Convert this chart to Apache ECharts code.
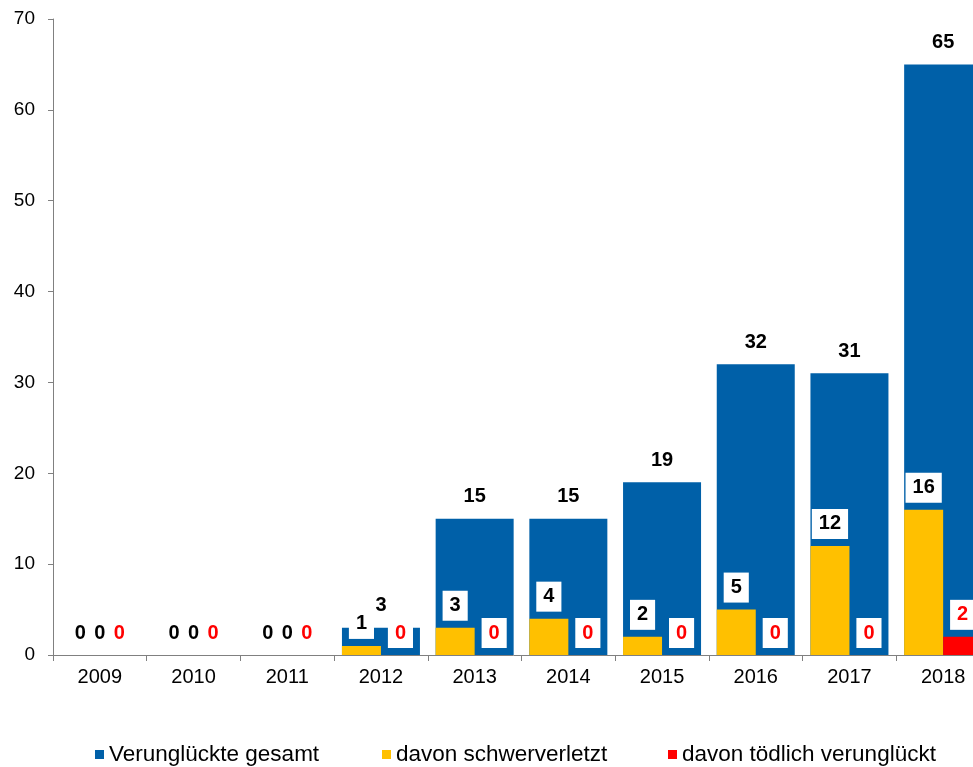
<!DOCTYPE html>
<html>
<head>
<meta charset="utf-8">
<script src="https://cdn.jsdelivr.net/npm/echarts@6/dist/echarts.min.js"></script>
<style>
html,body{margin:0;padding:0;background:#fff;overflow:hidden;}
#chart{width:973px;height:767px;}
</style>
</head>
<body>
<div id="chart"></div>
<script>
var years = ['2009','2010','2011','2012','2013','2014','2015','2016','2017','2018'];
var totalInjured = [0,0,0,3,15,15,19,32,31,65];
var seriouslyInjured = [0,0,0,1,3,4,2,5,12,16];
var killed = [0,0,0,0,0,0,0,0,0,2];
var yTicks = { min: 0, max: 70, interval: 10 };
var seriesNames = ['Verunglückte gesamt','davon schwerverletzt','davon tödlich verunglückt'];

var FONT = '"Liberation Sans", Arial, sans-serif';
var BLUE = '#0060A8', YELLOW = '#FFC000', RED = '#FF0000';

var boxLabel = function(color){
  return {
    show: true, position: 'top', distance: 7,
    backgroundColor: '#ffffff', padding: [5, 7, 5, 7],
    fontFamily: FONT, fontSize: 20, fontWeight: 'bold', color: color
  };
};

var legendItem = function(name, left){
  return { data: [name], left: left, top: 738, itemWidth: 9, itemHeight: 9, icon: 'rect',
    textStyle: { fontFamily: FONT, fontSize: 22.5, color: '#000' } };
};

var chart = echarts.init(document.getElementById('chart'), null, {renderer: 'canvas'});
chart.setOption({
  animation: false,
  backgroundColor: '#ffffff',
  grid: { left: 53, top: 19, bottom: 112, width: 937, containLabel: false, outerBoundsMode: 'none' },
  legend: [
    legendItem(seriesNames[0], 90),
    legendItem(seriesNames[1], 377),
    legendItem(seriesNames[2], 663)
  ],
  xAxis: [
    { type: 'category', data: years, boundaryGap: true,
      axisLine: { show: true, lineStyle: { color: '#808080', width: 1 } },
      axisTick: { show: true, alignWithLabel: false, length: 6, lineStyle: { color: '#808080' } },
      axisLabel: { fontFamily: FONT, fontSize: 20, color: '#000', margin: 12 },
      splitLine: { show: false } },
    { type: 'category', data: years, show: false, boundaryGap: true }
  ],
  yAxis: {
    type: 'value', min: yTicks.min, max: yTicks.max, interval: yTicks.interval,
    axisLine: { show: true, lineStyle: { color: '#808080', width: 1 } },
    axisTick: { show: true, inside: false, length: 5, lineStyle: { color: '#808080' } },
    axisLabel: { fontFamily: FONT, fontSize: 19, color: '#000', margin: 18 },
    splitLine: { show: false }
  },
  series: [
    { name: seriesNames[0], type: 'bar', xAxisIndex: 0, data: totalInjured,
      barWidth: 78, itemStyle: { color: BLUE },
      label: { show: true, position: 'top', distance: 12, fontFamily: FONT, fontSize: 20,
               fontWeight: 'bold', color: '#000' } },
    { name: seriesNames[1], type: 'bar', xAxisIndex: 1, data: seriouslyInjured,
      barWidth: 39, barGap: '0%', itemStyle: { color: YELLOW }, z: 3,
      label: boxLabel('#000') },
    { name: seriesNames[2], type: 'bar', xAxisIndex: 1, data: killed,
      barWidth: 39, barGap: '0%', itemStyle: { color: RED }, z: 3,
      label: boxLabel(RED) }
  ]
});
</script>
</body>
</html>
